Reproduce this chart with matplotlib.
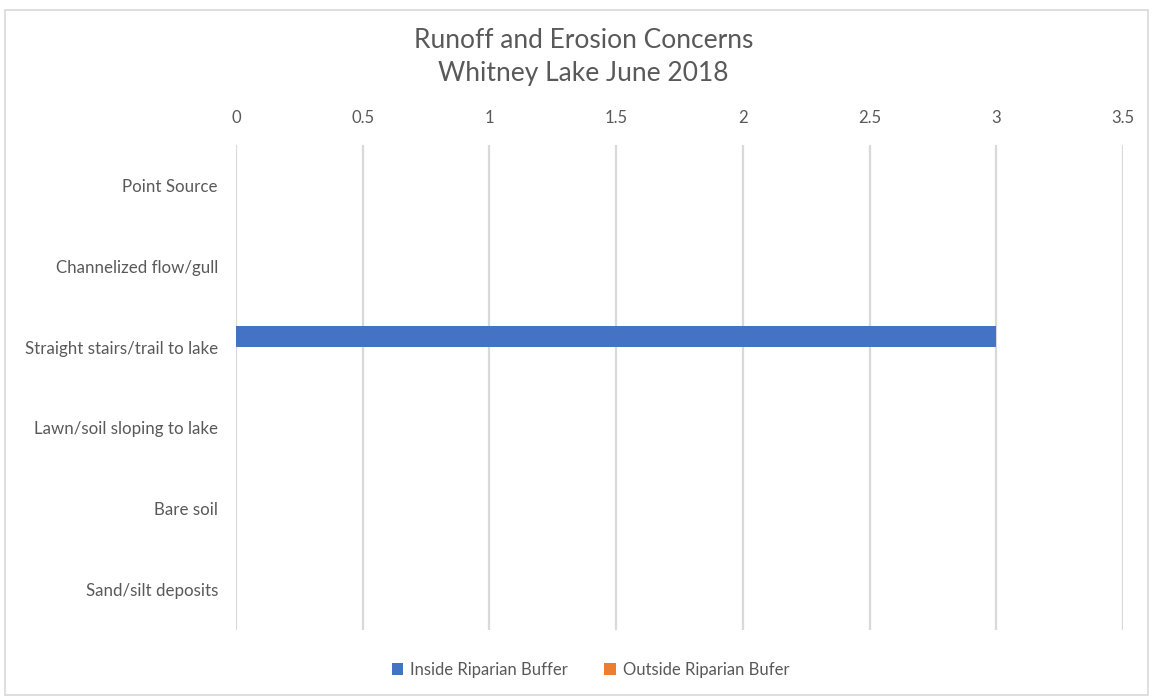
import numpy as np
import matplotlib.pyplot as plt
from matplotlib.patches import Rectangle

categories = ["Point Source", "Channelized flow/gull", "Straight stairs/trail to lake",
              "Lawn/soil sloping to lake", "Bare soil", "Sand/silt deposits"]
inside = [0, 0, 3, 0, 0, 0]
outside = [0, 0, 0, 0, 0, 0]
series_names = ["Inside Riparian Buffer", "Outside Riparian Bufer"]
xticks = [0, 0.5, 1, 1.5, 2, 2.5, 3, 3.5]

plt.rcParams["font.family"] = ["Lato", "DejaVu Sans"]
text_col = "#595959"

fig = plt.figure(figsize=(11.53, 6.98), dpi=100)
fig.patches.append(Rectangle((0.004, 0.004), 0.992, 0.981, transform=fig.transFigure,
                             fill=False, edgecolor="#d9d9d9", linewidth=1.2))
ax = fig.add_axes([0.2047, 0.0974, 0.7693, 0.6949])

y = np.arange(len(categories))
h = 0.26
ax.barh(y - h / 2, inside, height=h, color="#4472C4", linewidth=0, label=series_names[0], zorder=3)
ax.barh(y + h / 2, outside, height=h, color="#ED7D31", linewidth=0, label=series_names[1], zorder=3)

ax.set_ylim(len(categories) - 0.5, -0.5)
ax.set_yticks(y)
ax.set_yticklabels(categories)
ax.set_xlim(0, 3.5)
ax.set_xticks(xticks)
ax.set_xticklabels([f"{t:g}" for t in xticks])
ax.xaxis.tick_top()
ax.tick_params(axis="x", length=0, pad=14, labelsize=12, labelcolor=text_col)
ax.tick_params(axis="y", length=0, pad=13, labelsize=12.2, labelcolor=text_col)
ax.grid(axis="x", color="#d9d9d9", linewidth=1.6, zorder=0)
for s in ax.spines.values():
    s.set_visible(False)

fig.text(0.506, 0.942, "Runoff and Erosion Concerns", ha="center", va="center",
         fontsize=19, color=text_col)
fig.text(0.506, 0.895, "Whitney Lake June 2018", ha="center", va="center",
         fontsize=19, color=text_col)

fig.legend(loc="center", bbox_to_anchor=(0.512, 0.04), ncol=2, frameon=False,
           fontsize=12, labelcolor=text_col, handlelength=0.7, handleheight=0.7,
           handletextpad=0.4, columnspacing=2.2)

fig.savefig("out.png", dpi=100)
